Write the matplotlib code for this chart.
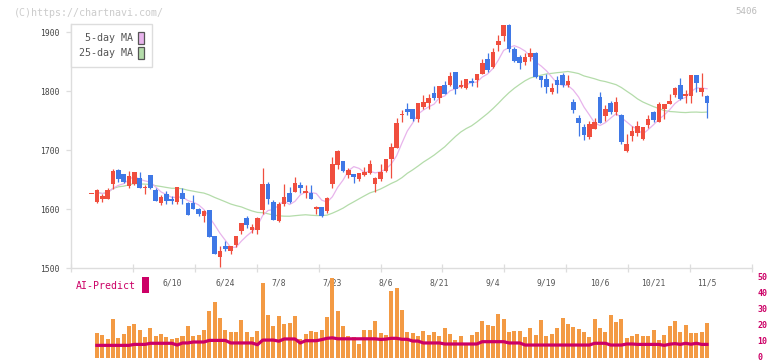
import numpy as np
import pandas as pd
import matplotlib
matplotlib.use("Agg")
import matplotlib.pyplot as plt
from matplotlib.patches import Rectangle, Patch
from matplotlib.transforms import ScaledTranslation

# ---------------- data ----------------
opens = [1625,1612,1617,1617,1643,1666,1659,1639,1643,1652,1635,1658,1633,1611,1626,1617,1612,1628,1611,1610,
         1600,1589,1598,1554,1519,1537,1529,1539,1563,1585,1565,1565,1598,1643,1612,1580,1608,1627,1629,1641,
         1628,1628,1600,1603,1597,1643,1675,1682,1658,1659,1651,1658,1661,1642,1651,1664,1685,1704,1759,1770,
         1770,1753,1773,1780,1797,1788,1810,1810,1832,1807,1805,1817,1819,1830,1854,1841,1878,1893,1912,1871,
         1858,1850,1858,1865,1826,1820,1798,1819,1827,1810,1781,1754,1739,1722,1736,1790,1758,1780,1764,1759,
         1698,1724,1729,1719,1742,1764,1747,1770,1778,1793,1810,1792,1792,1827,1798,1792]
highs = [1625,1634,1625,1636,1668,1668,1660,1664,1663,1663,1641,1658,1636,1624,1630,1622,1637,1636,1612,1624,
         1602,1598,1598,1554,1537,1546,1537,1554,1576,1589,1575,1586,1670,1646,1615,1612,1643,1637,1654,1646,
         1640,1641,1605,1603,1620,1688,1700,1682,1670,1660,1661,1671,1683,1655,1677,1685,1712,1755,1768,1780,
         1770,1780,1793,1795,1808,1808,1817,1832,1832,1819,1820,1822,1829,1854,1864,1873,1895,1912,1914,1875,
         1861,1865,1873,1867,1826,1829,1814,1825,1831,1827,1786,1759,1744,1749,1754,1798,1776,1783,1790,1761,
         1727,1741,1749,1739,1759,1766,1781,1778,1795,1807,1822,1802,1827,1827,1831,1793]
lows = [1625,1611,1612,1617,1634,1646,1645,1636,1640,1636,1626,1634,1614,1607,1609,1609,1609,1609,1590,1600,
        1589,1578,1553,1524,1502,1529,1524,1536,1558,1568,1560,1558,1592,1608,1581,1578,1605,1610,1629,1627,
        1619,1617,1592,1586,1594,1636,1668,1663,1653,1645,1648,1656,1660,1629,1648,1663,1653,1704,1748,1759,
        1750,1748,1770,1770,1785,1780,1795,1808,1795,1805,1803,1808,1807,1829,1832,1839,1868,1886,1866,1849,
        1838,1845,1851,1823,1807,1797,1795,1797,1807,1807,1763,1724,1717,1719,1736,1746,1749,1761,1759,1710,
        1697,1715,1724,1717,1737,1747,1747,1752,1778,1790,1785,1780,1780,1798,1792,1754]
closes = [1625,1632,1622,1632,1664,1651,1646,1656,1663,1636,1638,1636,1614,1621,1614,1614,1637,1617,1590,1600,
          1592,1597,1553,1524,1529,1532,1537,1554,1576,1573,1570,1585,1643,1617,1581,1608,1620,1612,1644,1636,
          1631,1617,1604,1588,1619,1676,1698,1665,1667,1654,1661,1663,1676,1653,1663,1685,1705,1746,1761,1765,
          1753,1780,1781,1788,1788,1808,1795,1825,1804,1810,1820,1814,1829,1847,1836,1866,1885,1912,1871,1852,
          1848,1858,1865,1824,1819,1807,1805,1810,1810,1817,1768,1746,1725,1744,1748,1746,1770,1764,1781,1714,
          1710,1732,1741,1739,1752,1751,1778,1778,1783,1805,1786,1795,1827,1814,1805,1780]

volume = [np.nan,
          15.6,14.4,11.9,24.4,12.5,15.0,20.0,21.3,17.5,13.1,
          18.8,13.8,15.0,13.1,11.9,12.5,13.8,20.0,13.8,14.4,
          17.5,29.4,35.0,25.0,17.5,16.3,16.3,23.8,16.3,13.1,
          16.9,46.9,26.9,20.0,26.3,21.3,21.9,26.3,11.9,15.0,
          16.9,16.3,17.5,25.6,49.8,29.4,20.0,13.8,13.1,8.8,
          17.5,17.5,23.1,15.6,14.4,
          42.0,44.0,30.0,16.5,15.5,14.0,17.0,14.5,16.5,13.5,
          19.0,15.0,11.5,14.0,9.5,14.5,16.5,23.0,20.5,20.0,
          27.5,24.5,16.0,17.0,17.0,13.0,19.0,14.5,24.0,14.0,
          15.0,19.0,25.0,21.5,19.5,18.0,16.0,13.0,24.5,19.0,
          16.5,27.0,22.5,24.5,12.5,14.0,15.0,14.0,14.0,17.5,
          11.5,14.5,20.0,23.0,16.5,20.5,15.5,15.5,16.0,22.0]

ai_predict = ([np.nan] + [7.9]*7 + [8.5]*3 + [9.2]*5 + [8.1] + [9.4]*2 + [10.0]*3 + [11.0]*4 +
              [9.4]*5 + [8.3] + [11.2]*3 + [10.5] + [11.9]*3 + [9.4] + [10.8]*3 + [11.5] + [12.3, 12.6] +
              [12.0]*8 + [11.6, 11.8] + [12.3]*2 + [11.7]*2 + [10.6]*2 + [9.4]*4 + [8.75]*7 + [10.2]*5 +
              [9.4]*3 + [8.1]*13 + [9.2]*3 + [8.1]*3 + [8.75]*2 + [8.5]*5 + [7.9] +
              [8.6, 9.0, 8.5, 9.2, 8.6, 9.2, 8.5] + [8.5])

date_idx = [15, 25, 35, 45, 55, 65, 75, 85, 95, 105, 115]
date_labels = ["6/10", "6/24", "7/8", "7/23", "8/6", "8/21", "9/4", "9/19", "10/6", "10/21", "11/5"]
price_ticks = [1500, 1600, 1700, 1800, 1900]
vol_ticks = [0, 10, 20, 30, 40, 50]

# ---------------- styling ----------------
UP = "#f04e3e"
DOWN = "#3f78e6"
PINK = "#e8b4ec"
GREEN = "#b4dcaa"
MAG = "#cc0066"
ORANGE = "#f39a44"
GRID = "#dddddd"
MONO = ["DejaVu Sans Mono"]

W, H = 772, 361
fig = plt.figure(figsize=(W / 100, H / 100), dpi=100)
fig.patch.set_facecolor("white")

ax = fig.add_axes([71 / W, 1 - 268 / H, 681 / W, 244 / H])
axv = fig.add_axes([71 / W, 1 - 358 / H, 681 / W, 80 / H])

n = len(closes)
x = np.arange(n)
o = np.array(opens, float); c = np.array(closes, float)
h = np.array(highs, float); l = np.array(lows, float)
colors = [UP if cc >= oo else DOWN for oo, cc in zip(o, c)]

xl = (-3.83, 123.4)

# MAs
cs = pd.Series(c)
ma5 = cs.rolling(5, min_periods=1).mean()
ma25 = cs.rolling(25, min_periods=1).mean()
ax.plot(x[1:], ma25[1:], color=GREEN, lw=0.9, zorder=2)
ax.plot(x[1:], ma5[1:], color=PINK, lw=0.9, zorder=2)

# candles
ax.vlines(x, l, h, colors=colors, lw=0.9, zorder=3)
body_bottom = np.minimum(o, c)
body_h = np.maximum(np.abs(c - o), 1.6)
ax.bar(x, body_h, bottom=body_bottom, width=0.86, color=colors, lw=0, zorder=4)

ax.set_xlim(*xl)
ax.set_ylim(1500, 1914)
for s in ["top", "right"]:
    ax.spines[s].set_visible(False)
for s in ["left", "bottom"]:
    ax.spines[s].set_color(GRID)
    ax.spines[s].set_linewidth(1.0)

ax.set_yticks(price_ticks)
ax.set_yticklabels([str(v) for v in price_ticks], fontfamily=MONO)
ax.tick_params(axis="y", direction="out", length=3.6, width=0.9, color=GRID,
               pad=4.3, labelsize=5.8, labelcolor="#444444")
ax.set_xticks(np.linspace(xl[0], xl[1], 12))
ax.set_xticklabels([])
ax.tick_params(axis="x", which="major", direction="inout", length=5.5, width=0.9, color=GRID)
ax.set_xticks(date_idx, minor=True)
ax.set_xticklabels(date_labels, minor=True, fontfamily=MONO)
ax.tick_params(axis="x", which="minor", length=0, pad=7.5, labelsize=5.8, labelcolor="#555555")

# legend
handles = [Patch(facecolor=PINK, edgecolor="#555555", lw=0.9, label="5-day MA"),
           Patch(facecolor=GREEN, edgecolor="#555555", lw=0.9, label="25-day MA")]
leg = ax.legend(handles=handles, loc="upper left", bbox_to_anchor=(0, 1), borderaxespad=0,
                markerfirst=False, handlelength=0.55, handleheight=1.5, handletextpad=0.5,
                labelspacing=0.25, borderpad=0.8, fancybox=False, framealpha=1,
                prop={"family": MONO, "size": 7.2})
leg.get_frame().set_edgecolor(GRID)
leg.get_frame().set_linewidth(1.0)
for t in leg.get_texts():
    t.set_color("#555555")

# volume / AI panel
axv.bar(x, volume, width=0.75, color=ORANGE, lw=0, zorder=2)
axv.plot(x, ai_predict, color=MAG, lw=2.3, zorder=3, solid_joinstyle="round")
axv.set_xlim(*xl)
axv.set_ylim(0, 50)
for s in axv.spines.values():
    s.set_visible(False)
axv.set_xticks([])
axv.yaxis.tick_right()
axv.set_yticks(vol_ticks)
axv.set_yticklabels([str(v) for v in vol_ticks], fontfamily=MONO, fontweight="bold")
axv.tick_params(axis="y", length=0, pad=4.0, labelsize=6.0, labelcolor=MAG)
axv.patch.set_alpha(0)
up_shift = ScaledTranslation(0, 2.0 / 100, fig.dpi_scale_trans)
for tk in axv.yaxis.get_major_ticks():
    tk.label2.set_transform(tk.label2.get_transform() + up_shift)

# texts
fig.text(14 / W, 1 - 13 / H, "(C)https://chartnavi.com/", ha="left", va="center",
         color="#cccccc", fontsize=7.2, family=MONO)
fig.text(757 / W, 1 - 12 / H, "5406", ha="right", va="center",
         color="#bbbbbb", fontsize=6.6, family=MONO)
fig.text(76 / W, 1 - 286 / H, "AI-Predict", ha="left", va="center",
         color=MAG, fontsize=7.1, family=MONO)
fig.add_artist(Rectangle((142 / W, 1 - 293 / H), 7 / W, 16 / H, transform=fig.transFigure,
                         facecolor=MAG, edgecolor="none"))

fig.savefig("out.png", dpi=100, facecolor="white")
